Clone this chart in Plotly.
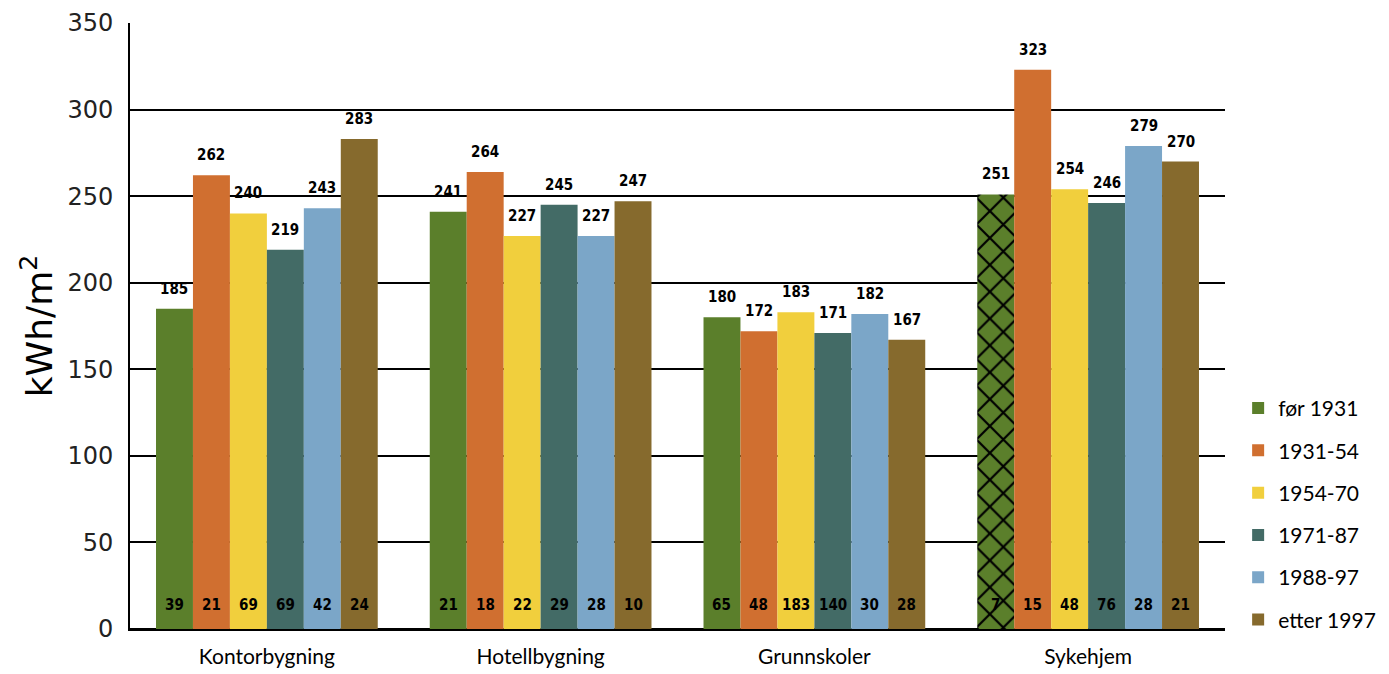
import plotly.graph_objects as go

categories = ["Kontorbygning", "Hotellbygning", "Grunnskoler", "Sykehjem"]
periods = ["før 1931", "1931-54", "1954-70", "1971-87", "1988-97", "etter 1997"]

# specific energy use (kWh/m2) per building type and construction period
energy = {
    "før 1931":   [185, 241, 180, 251],
    "1931-54":    [262, 264, 172, 323],
    "1954-70":    [240, 227, 183, 254],
    "1971-87":    [219, 245, 171, 246],
    "1988-97":    [243, 227, 182, 279],
    "etter 1997": [283, 247, 167, 270],
}

# number of buildings in each sample
counts = {
    "før 1931":   [39, 21, 65, 7],
    "1931-54":    [21, 18, 48, 15],
    "1954-70":    [69, 22, 183, 48],
    "1971-87":    [69, 29, 140, 76],
    "1988-97":    [42, 28, 30, 28],
    "etter 1997": [24, 10, 28, 21],
}

colors = ["#5b7f2b", "#d06f30", "#f1cf3d", "#436b66", "#7ba6c8", "#866a2d"]

# the nursing-home bar for the oldest period is cross-hatched
hatch = {"før 1931": ["", "", "", "x"]}

NARROW = "DejaVu Sans Condensed, Liberation Sans Narrow, Arial Narrow, sans-serif"
BODY = "Lato, Open Sans, sans-serif"

BARGAP = 0.19
fig = go.Figure()
for p, c in zip(periods, colors):
    marker = dict(color=c, line=dict(width=0))
    if p in hatch:
        marker["pattern"] = dict(shape=hatch[p], fgcolor="black", bgcolor=c,
                                 size=19, solidity=0.22, fillmode="replace")
    fig.add_trace(go.Bar(name=p, x=categories, y=energy[p], marker=marker,
                         legendgroup=p))

n = len(periods)
width = (1 - BARGAP) / n
annotations = []
for j, p in enumerate(periods):
    for i, cat in enumerate(categories):
        xpos = i + (j - (n - 1) / 2) * width
        annotations.append(dict(x=xpos, y=energy[p][i], xref="x", yref="y",
                                text="<b>%d</b>" % energy[p][i], showarrow=False,
                                yanchor="bottom", yshift=9,
                                font=dict(family=NARROW, size=15, color="black")))
        annotations.append(dict(x=xpos, y=0, xref="x", yref="y",
                                text="<b>%d</b>" % counts[p][i], showarrow=False,
                                yanchor="middle", yshift=24,
                                font=dict(family=NARROW, size=15, color="black")))

fig.update_layout(
    width=1389, height=674,
    margin=dict(l=130, r=164, t=23, b=45, autoexpand=False),
    plot_bgcolor="white", paper_bgcolor="white",
    barmode="group", bargap=BARGAP, bargroupgap=0,
    annotations=annotations,
    legend=dict(x=1.012, xanchor="left", y=-0.018, yanchor="bottom",
                traceorder="grouped", tracegroupgap=12,
                font=dict(family=BODY, size=21, color="black")),
    xaxis=dict(showline=True, linecolor="black", linewidth=2, automargin=False,
               ticks="outside", ticklen=8, tickcolor="rgba(0,0,0,0)",
               tickfont=dict(family=BODY, size=21, color="black")),
    yaxis=dict(range=[0, 350], dtick=50, showgrid=True, gridcolor="black",
               gridwidth=2, zeroline=True, zerolinecolor="black", zerolinewidth=2,
               showline=True, linecolor="black", linewidth=2, automargin=False,
               ticks="outside", ticklen=10, tickcolor="rgba(0,0,0,0)",
               tickfont=dict(family="DejaVu Sans, Verdana, sans-serif", size=24,
                             color="#222"),
               title=dict(text="kWh/m<sup>2</sup>", standoff=4,
                          font=dict(family="DejaVu Sans, Verdana, sans-serif",
                                    size=36, color="black"))),
)

fig.write_html("out.html")
